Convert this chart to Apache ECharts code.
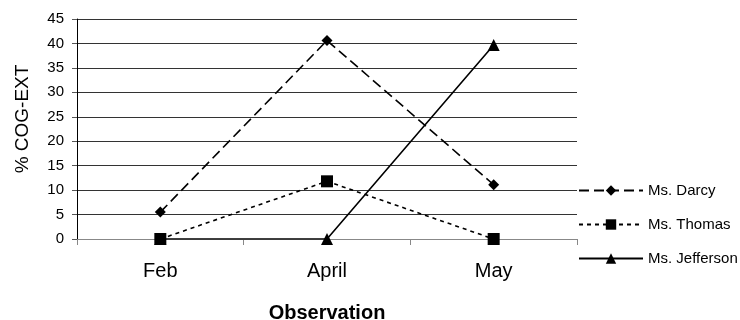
<!DOCTYPE html>
<html>
<head>
<meta charset="utf-8">
<script src="https://cdn.jsdelivr.net/npm/echarts@6/dist/echarts.min.js"></script>
<style>
  html, body { margin: 0; padding: 0; background: #fff; }
  #chart { width: 740px; height: 320px; }
</style>
</head>
<body>
<div id="chart"></div>
<script>
// Observation months
const categories = ['Feb', 'April', 'May'];

// % COG-EXT per teacher
const darcy = [5.5, 40.6, 11.1];
const thomas = [0, 11.8, 0];
const jefferson = [0, 0, 39.7];

const FONT = '"Liberation Sans", Arial, sans-serif';

const chart = echarts.init(document.getElementById('chart'), null, { renderer: 'canvas' });

function lineSeries(name, data, symbol, size, dash) {
  return {
    name: name,
    type: 'line',
    data: data,
    symbol: symbol,
    symbolSize: size,
    showAllSymbol: true,
    z: 3,
    lineStyle: { color: '#000', width: 1.6, type: dash },
    itemStyle: { color: '#000', borderWidth: 0 },
    emphasis: { disabled: true }
  };
}

chart.setOption({
  animation: false,
  backgroundColor: '#fff',
  textStyle: { fontFamily: FONT },
  grid: {
    left: 77, right: 163, top: 19, bottom: 81,
    containLabel: false,
    outerBoundsMode: 'none'
  },
  legend: {
    orient: 'vertical',
    left: 578,
    top: 183,
    padding: 0,
    itemWidth: 64,
    itemHeight: 13,
    itemGap: 19,
    textStyle: { fontFamily: FONT, fontSize: 15, color: '#000' },
    data: ['Ms. Darcy', 'Ms. Thomas', 'Ms. Jefferson']
  },
  xAxis: {
    type: 'category',
    data: categories,
    boundaryGap: true,
    name: 'Observation',
    nameLocation: 'middle',
    nameGap: 64,
    nameTextStyle: { fontFamily: FONT, fontSize: 20, fontWeight: 'bold', color: '#000' },
    axisLine: { show: true, lineStyle: { color: '#888', width: 1 } },
    axisTick: { show: true, length: 6, lineStyle: { color: '#888' } },
    axisLabel: { fontFamily: FONT, fontSize: 20, color: '#000', margin: 22 },
    splitLine: { show: false }
  },
  yAxis: {
    type: 'value',
    min: 0,
    max: 45,
    interval: 5,
    name: '% COG-EXT',
    nameLocation: 'middle',
    nameGap: 45,
    nameRotate: 90,
    nameTextStyle: { fontFamily: FONT, fontSize: 19, color: '#000', padding: [0, 0, 0, 20] },
    axisLine: { show: true, lineStyle: { color: '#000', width: 1 } },
    axisTick: { show: true, length: 5, lineStyle: { color: '#555' } },
    axisLabel: { fontFamily: FONT, fontSize: 15, color: '#000', margin: 13 },
    splitLine: { show: true, lineStyle: { color: '#333', width: 1 } }
  },
  series: [
    lineSeries('Ms. Darcy', darcy, 'diamond', 11, [10, 5]),
    lineSeries('Ms. Thomas', thomas, 'rect', 12, [4, 4]),
    lineSeries('Ms. Jefferson', jefferson, 'triangle', 12, 'solid')
  ]
});
</script>
</body>
</html>
